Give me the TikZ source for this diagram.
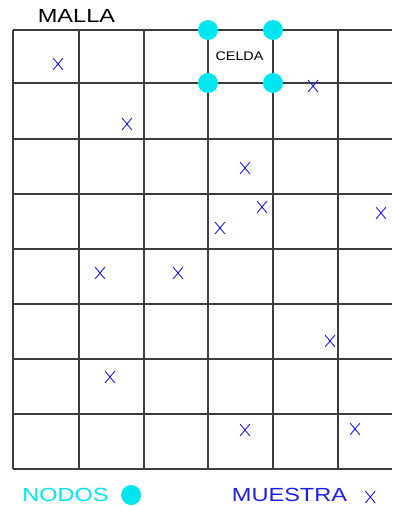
\documentclass[tikz,border=0pt]{standalone}
\usepackage{fontspec}
\setmainfont{Liberation Sans}
\usepackage{xcolor}
\usepackage{tikz}
\usetikzlibrary{positioning,shapes.misc}
\definecolor{gridgray}{RGB}{60,60,60}
\definecolor{nodecyan}{RGB}{0,230,240}
\definecolor{sampleblue}{RGB}{30,30,235}
\tikzset{
  gridline/.style={draw=gridgray, line width=1.1pt},
  nodedot/.style={circle, fill=nodecyan, inner sep=0pt, minimum size=20pt},
  samplex/.style={cross out, draw=sampleblue, line width=0.9pt, inner sep=0pt,
    minimum width=9pt, minimum height=11pt},
  title/.style={font=\fontsize{19}{19}\selectfont, inner sep=0pt, xscale=1.24}
}

\begin{document}
\begin{tikzpicture}[x=1pt, y=-1pt]
\useasboundingbox[fill=white] (0,0) rectangle (392,506);
% malla
\foreach \yy in {30,83,139,194,249,304,359,414,469}
  \draw[gridline] (13,\yy) -- (392,\yy);
\foreach \xx in {13,79,144,208,273,338}
  \draw[gridline] (\xx,30) -- (\xx,469);

\node[title] (malla) at (76.5,16) {MALLA};
\node[font=\fontsize{12.5}{12.5}\selectfont, inner sep=0pt, xscale=1.15] (celda) at (239.5,56) {CELDA};

% nodos de la celda
\node[nodedot] (n1) at (208,30) {};
\node[nodedot] (n2) at (273,30) {};
\node[nodedot] (n3) at (208,83) {};
\node[nodedot] (n4) at (273,83) {};

% muestras
\node[samplex] (m1) at (58,64) {};
\node[samplex] (m2) at (127,124) {};
\node[samplex] (m3) at (313,86) {};
\node[samplex] (m4) at (245,168) {};
\node[samplex] (m5) at (262,207) {};
\node[samplex] (m6) at (220,228) {};
\node[samplex] (m7) at (381,213) {};
\node[samplex] (m8) at (100,273) {};
\node[samplex] (m9) at (178,273) {};
\node[samplex] (m10) at (330,341) {};
\node[samplex] (m11) at (110,377) {};
\node[samplex] (m12) at (245,430) {};
\node[samplex] (m13) at (355,429) {};

% leyenda
\node[title, text=nodecyan] (nodos) at (65.5,495) {NODOS};
\node[nodedot, right=12pt of nodos] (legdot) {};
\node[title, text=sampleblue] (muestra) at (289.5,495) {MUESTRA};
\node[samplex, right=18pt of muestra, yshift=-2pt] (legx) {};
\end{tikzpicture}
\end{document}
